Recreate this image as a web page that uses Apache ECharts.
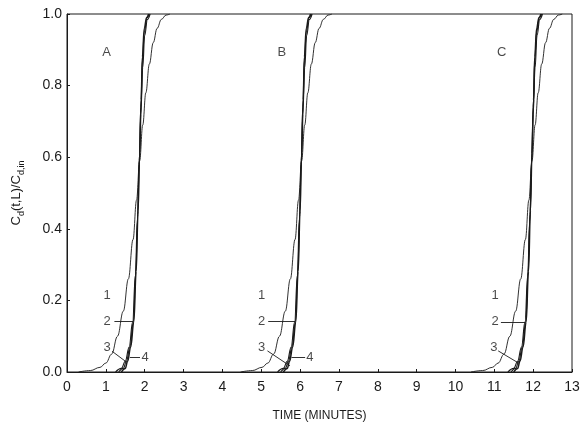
<!DOCTYPE html>
<html>
<head>
<meta charset="utf-8">
<script src="https://cdn.jsdelivr.net/npm/echarts@6/dist/echarts.min.js"></script>
<style>
  html, body { margin: 0; padding: 0; background: #fff; }
  #chart { width: 588px; height: 427px; }
</style>
</head>
<body>
<div id="chart"></div>
<script>
// x tick labels
const xTicks = [0, 1, 2, 3, 4, 5, 6, 7, 8, 9, 10, 11, 12, 13];

// panel A curves [time, Cd/Cd,in]
const a1 = [[0.3,0],[0.6,0.004],[0.85,0.013],[1.0,0.025],[1.15,0.05],[1.3,0.1],[1.45,0.17],[1.58,0.26],[1.7,0.37],[1.79,0.48],[1.87,0.59],[1.95,0.69],[2.03,0.78],[2.12,0.86],[2.22,0.92],[2.32,0.96],[2.43,0.985],[2.55,0.997],[2.65,1.0]];
const a2 = [[1.25,0],[1.4,0.01],[1.5,0.03],[1.6,0.07],[1.69,0.14],[1.76,0.27],[1.81,0.42],[1.86,0.58],[1.9,0.72],[1.95,0.85],[2.0,0.94],[2.07,0.985],[2.14,1.0]];
const a3 = [[1.33,0],[1.45,0.01],[1.53,0.03],[1.62,0.07],[1.71,0.14],[1.77,0.28],[1.82,0.44],[1.86,0.59],[1.9,0.74],[1.94,0.87],[1.99,0.95],[2.06,0.99],[2.12,1.0]];
const a4 = [[1.4,0],[1.5,0.01],[1.56,0.03],[1.64,0.07],[1.72,0.14],[1.78,0.28],[1.83,0.45],[1.87,0.61],[1.91,0.76],[1.94,0.88],[1.99,0.96],[2.05,0.99],[2.1,1.0]];

// panel B curves
const b1 = [[4.47,0],[4.77,0.004],[5.02,0.013],[5.17,0.025],[5.32,0.05],[5.47,0.1],[5.62,0.17],[5.75,0.26],[5.87,0.37],[5.96,0.48],[6.04,0.59],[6.12,0.69],[6.2,0.78],[6.29,0.86],[6.39,0.92],[6.49,0.96],[6.6,0.985],[6.72,0.997],[6.82,1.0]];
const b2 = [[5.42,0],[5.57,0.01],[5.67,0.03],[5.77,0.07],[5.86,0.14],[5.93,0.27],[5.98,0.42],[6.03,0.58],[6.07,0.72],[6.12,0.85],[6.17,0.94],[6.24,0.985],[6.31,1.0]];
const b3 = [[5.5,0],[5.62,0.01],[5.7,0.03],[5.79,0.07],[5.88,0.14],[5.94,0.28],[5.99,0.44],[6.03,0.59],[6.07,0.74],[6.11,0.87],[6.16,0.95],[6.23,0.99],[6.29,1.0]];
const b4 = [[5.57,0],[5.67,0.01],[5.73,0.03],[5.81,0.07],[5.89,0.14],[5.95,0.28],[6.0,0.45],[6.04,0.61],[6.08,0.76],[6.11,0.88],[6.16,0.96],[6.22,0.99],[6.27,1.0]];

// panel C curves
const c1 = [[10.4,0],[10.7,0.004],[10.95,0.013],[11.1,0.025],[11.25,0.05],[11.4,0.1],[11.55,0.17],[11.68,0.26],[11.8,0.37],[11.89,0.48],[11.97,0.59],[12.05,0.69],[12.13,0.78],[12.22,0.86],[12.32,0.92],[12.42,0.96],[12.53,0.985],[12.65,0.997],[12.75,1.0]];
const c2 = [[11.35,0],[11.5,0.01],[11.6,0.03],[11.7,0.07],[11.79,0.14],[11.86,0.27],[11.91,0.42],[11.96,0.58],[12.0,0.72],[12.05,0.85],[12.1,0.94],[12.17,0.985],[12.24,1.0]];
const c3 = [[11.43,0],[11.55,0.01],[11.63,0.03],[11.72,0.07],[11.81,0.14],[11.87,0.28],[11.92,0.44],[11.96,0.59],[12.0,0.74],[12.04,0.87],[12.09,0.95],[12.16,0.99],[12.22,1.0]];
const c4 = [[11.5,0],[11.6,0.01],[11.66,0.03],[11.74,0.07],[11.82,0.14],[11.88,0.28],[11.93,0.45],[11.97,0.61],[12.01,0.76],[12.04,0.88],[12.09,0.96],[12.15,0.99],[12.2,1.0]];

// text annotations [time, value, text]
const panelLetters = [[1.02,0.894,'A'],[5.53,0.894,'B'],[11.19,0.894,'C']];
const curveNumbers = [
  [1.03,0.214,'1'],[1.03,0.141,'2'],[1.03,0.068,'3'],[2.01,0.040,'4'],
  [5.01,0.214,'1'],[5.01,0.141,'2'],[5.01,0.068,'3'],[6.25,0.040,'4'],
  [11.02,0.214,'1'],[11.02,0.141,'2'],[10.99,0.068,'3']
];
// leader lines from number to curve
const leaders = [
  [[1.22,0.141],[1.70,0.141]], [[1.16,0.058],[1.54,0.027]], [[1.62,0.041],[1.88,0.041]],
  [[5.18,0.141],[5.87,0.141]], [[5.16,0.059],[5.74,0.017]], [[5.78,0.040],[6.13,0.040]],
  [[11.17,0.139],[11.79,0.139]], [[11.10,0.059],[11.64,0.024]]
];

const ink = '#1a1a1a';
const font = 'Liberation Sans, Arial, sans-serif';

let chart = echarts.init(document.getElementById('chart'));

function curve(data, w) {
  return {
    type: 'line',
    data: data,
    showSymbol: false,
    smooth: 0.4,
    smoothMonotone: 'x',
    lineStyle: { color: ink, width: w },
    silent: true,
    z: 3
  };
}

let series = [
  curve(a1, 0.9), curve(a2, 1.1), curve(a3, 1.1), curve(a4, 1.5),
  curve(b1, 0.9), curve(b2, 1.1), curve(b3, 1.1), curve(b4, 1.5),
  curve(c1, 0.9), curve(c2, 1.1), curve(c3, 1.1), curve(c4, 1.5)
];

series.push({
  type: 'scatter',
  symbolSize: 0,
  data: panelLetters.concat(curveNumbers),
  label: {
    show: true,
    position: 'inside',
    formatter: p => p.data[2],
    color: ink,
    fontFamily: font,
    fontSize: 13
  },
  silent: true,
  markLine: {
    symbol: 'none',
    silent: true,
    label: { show: false },
    lineStyle: { color: ink, width: 0.9, type: 'solid' },
    data: leaders.map(l => [{ coord: l[0] }, { coord: l[1] }])
  }
});

let option = {
  animation: false,
  backgroundColor: '#fff',
  grid: {
    left: 67, right: 16, top: 14, bottom: 49,
    show: true, borderColor: ink, borderWidth: 1, backgroundColor: 'transparent'
  },
  xAxis: {
    type: 'value',
    min: xTicks[0],
    max: xTicks[xTicks.length - 1],
    interval: 1,
    name: 'TIME (MINUTES)',
    nameLocation: 'middle',
    nameGap: 38,
    nameTextStyle: { color: ink, fontFamily: font, fontSize: 12 },
    axisLine: { lineStyle: { color: ink, width: 1 } },
    axisTick: { inside: true, length: 3, lineStyle: { color: ink } },
    axisLabel: { color: ink, fontFamily: font, fontSize: 14, margin: 8 },
    splitLine: { show: false }
  },
  yAxis: {
    type: 'value',
    min: 0,
    max: 1,
    interval: 0.2,
    name: '{n|C}{s|d}{n|(t,L)/C}{s|d,in}',
    nameLocation: 'middle',
    nameRotate: 90,
    nameGap: 44,
    nameTextStyle: {
      color: ink,
      fontFamily: font,
      rich: {
        n: { fontSize: 13, color: ink, fontFamily: font, lineHeight: 18, verticalAlign: 'bottom' },
        s: { fontSize: 9, color: ink, fontFamily: font, lineHeight: 14, verticalAlign: 'bottom', padding: [0, 0, -3, 0] }
      }
    },
    axisLine: { lineStyle: { color: ink, width: 1 } },
    axisTick: { inside: true, length: 3, lineStyle: { color: ink } },
    axisLabel: {
      color: ink, fontFamily: font, fontSize: 14, margin: 5,
      formatter: v => v.toFixed(1)
    },
    splitLine: { show: false }
  },
  series: series
};

chart.setOption(option);
</script>
</body>
</html>
